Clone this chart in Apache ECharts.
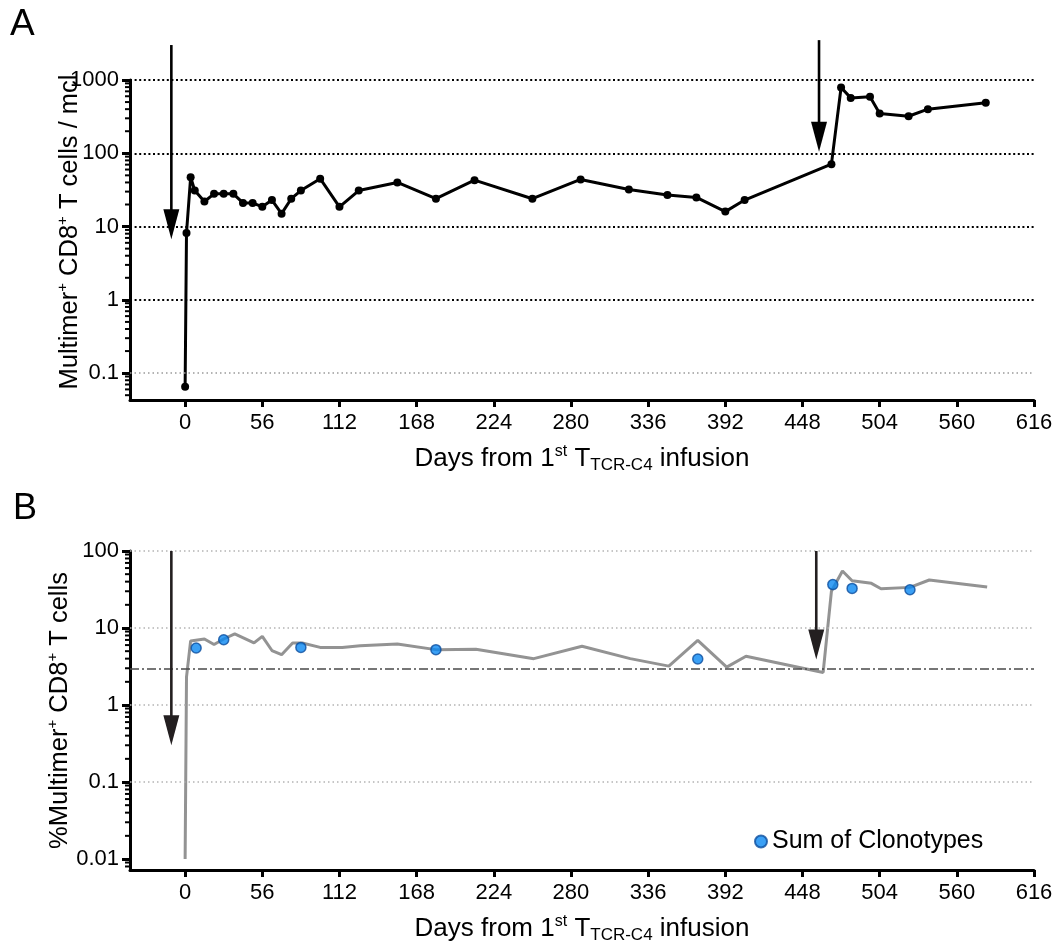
<!DOCTYPE html>
<html>
<head>
<meta charset="utf-8">
<script src="https://cdn.jsdelivr.net/npm/echarts@6/dist/echarts.min.js"></script>
<style>
  html, body { margin: 0; padding: 0; background: #fff; }
  #chart { width: 1059px; height: 949px; }
</style>
</head>
<body>
<div id="chart"></div>
<script>
// x axis: days from first infusion
const dayTicks = [0, 56, 112, 168, 224, 280, 336, 392, 448, 504, 560, 616];

// Panel A: multimer+ CD8+ T cells per microlitre
const countDays = [0, 1, 4, 7, 14, 21, 28, 35, 42, 49, 56, 63, 70, 77, 84, 98, 112, 126, 154, 182,
                   210, 252, 287, 322, 350, 371, 392, 406, 469, 476, 483, 497, 504, 525, 539, 581];
const countValues = [0.065, 8.2, 47, 31, 22, 28, 28, 28, 21, 21, 18.6, 23, 15, 24, 31, 45, 18.6, 31, 40, 24,
                     43, 24, 44, 32, 27, 25, 16, 23, 71, 790, 570, 590, 350, 320, 400, 490];
const countTicks = [0.1, 1, 10, 100, 1000];

// Panel B: % multimer+ of CD8+ T cells
const pctDays = [0, 1, 4, 14, 21, 28, 36, 50, 56, 63, 70, 78, 85, 98, 114, 127, 154, 183, 211, 253,
                 288, 323, 351, 372, 393, 407, 463, 469, 477, 484, 498, 505, 526, 540, 582];
const pctValues = [0.01, 2.3, 6.8, 7.2, 6.1, 7.2, 8.4, 6.4, 7.8, 5.1, 4.5, 6.4, 6.4, 5.6, 5.6, 5.9, 6.2, 5.2, 5.3, 4.0,
                   5.8, 4.0, 3.2, 6.9, 3.1, 4.3, 2.65, 30, 55, 41, 38, 32.4, 33.7, 42, 34];
const cloneDays = [8, 28, 84, 182, 372, 470, 484, 526];
const cloneValues = [5.5, 7.05, 5.6, 5.23, 3.96, 36.6, 32.7, 31.4];
const pctTicks = [0.01, 0.1, 1, 10, 100];
const pctThreshold = 3;

// infusion arrows: day, value at the tail, value at the tip
const arrowDaysA = [-10, 460];
const arrowTailA = [3000, 3500];
const arrowTipA = [6.7, 105];
const arrowDaysB = [-10, 458];
const arrowTailB = [100, 100];
const arrowTipB = [0.3, 3.9];

const FONT = "'Liberation Sans', Arial, Helvetica, sans-serif";
const X_MIN = -40, X_MAX = 616;
const A_MIN = 0.043, A_MAX = 1000;
const B_MIN = 0.0072, B_MAX = 100;

// 2..9 x 10^k minor tick values inside a log range
function minorTicks(lo, hi) {
  const out = [];
  for (let k = Math.floor(Math.log10(lo)); k <= Math.ceil(Math.log10(hi)); k++) {
    for (let m = 2; m <= 9; m++) {
      const v = m * Math.pow(10, k);
      if (v >= lo && v <= hi) out.push(v);
    }
  }
  return out;
}

function fmtLog(v) { return String(parseFloat(Number(v).toPrecision(6))); }

function nameRich(size) {
  return {
    n: { fontSize: size, lineHeight: 30, fontFamily: FONT, color: '#000' },
    sup: { fontSize: Math.round(size * 0.6), lineHeight: 15, verticalAlign: 'top', fontFamily: FONT, color: '#000' },
    sub: { fontSize: Math.round(size * 0.66), lineHeight: 16, verticalAlign: 'bottom', fontFamily: FONT, color: '#000' }
  };
}

function xAxisDef(gridIndex) {
  return {
    type: 'value', gridIndex, min: X_MIN, max: X_MAX,
    name: '{n|Days from 1}{sup|st}{n| T}{sub|TCR-C4}{n| infusion}',
    nameLocation: 'middle', nameGap: 44, nameMoveOverlap: false,
    nameTextStyle: { rich: nameRich(26) },
    axisLine: { show: true, onZero: false, lineStyle: { color: '#000', width: 3 } },
    axisTick: { show: true, customValues: dayTicks, length: 7, lineStyle: { color: '#000', width: 3 } },
    axisLabel: { customValues: dayTicks, fontSize: 22, color: '#000', fontFamily: FONT, margin: 12 },
    splitLine: { show: false }
  };
}

function yAxisDef(gridIndex, min, max, ticks, name, gap, pad) {
  return {
    type: 'log', logBase: 10, gridIndex, min, max,
    name, nameLocation: 'middle', nameGap: gap, nameMoveOverlap: false,
    nameTextStyle: { rich: nameRich(25.5), padding: pad },
    axisLine: { show: true, onZero: false, lineStyle: { color: '#000', width: 3 } },
    axisTick: { show: true, customValues: ticks, length: 8, lineStyle: { color: '#000', width: 3 } },
    axisLabel: { customValues: ticks, fontSize: 22, color: '#000', fontFamily: FONT, margin: 11, formatter: fmtLog },
    splitLine: { show: false },
    minorTick: { show: false }
  };
}

function minorTickSeries(xi, yi, lo, hi) {
  return {
    type: 'custom', xAxisIndex: xi, yAxisIndex: yi, silent: true, z: 5,
    data: minorTicks(lo, hi).map(v => [X_MIN, v]),
    renderItem(params, api) {
      const p = api.coord([api.value(0), api.value(1)]);
      return { type: 'line', shape: { x1: p[0] - 5, y1: p[1], x2: p[0], y2: p[1] },
               style: { stroke: '#000', lineWidth: 2 } };
    }
  };
}

function arrowSeries(xi, yi, days, tails, tips, color) {
  return {
    type: 'custom', xAxisIndex: xi, yAxisIndex: yi, silent: true, z: 10, clip: false,
    data: days.map((d, i) => [d, tails[i], tips[i]]),
    encode: { x: 0, y: [1, 2] },
    renderItem(params, api) {
      const tail = api.coord([api.value(0), api.value(1)]);
      const tip = api.coord([api.value(0), api.value(2)]);
      const headH = 30, headW = 8;
      return {
        type: 'group',
        children: [
          { type: 'line', shape: { x1: tail[0], y1: tail[1], x2: tip[0], y2: tip[1] - headH + 2 },
            style: { stroke: color, lineWidth: 2.6 } },
          { type: 'polygon',
            shape: { points: [[tip[0] - headW, tip[1] - headH], [tip[0] + headW, tip[1] - headH], [tip[0], tip[1]]] },
            style: { fill: color } }
        ]
      };
    }
  };
}

const chart = echarts.init(document.getElementById('chart'), null, { renderer: 'canvas' });

chart.setOption({
  animation: false,
  backgroundColor: '#fff',
  textStyle: { fontFamily: FONT },
  title: [
    { text: 'A', left: 10, top: 6, padding: 0, textStyle: { fontSize: 37, fontWeight: 'normal', color: '#000', fontFamily: FONT } },
    { text: 'B', left: 13, top: 491, padding: 0, textStyle: { fontSize: 36, fontWeight: 'normal', color: '#000', fontFamily: FONT } }
  ],
  legend: {
    data: ['Sum of Clonotypes'], left: 754, top: 829, padding: 0,
    itemWidth: 12, itemHeight: 12, itemGap: 5,
    textStyle: { fontSize: 25, color: '#000', fontFamily: FONT }
  },
  grid: [
    { left: 130, right: 25, top: 80, height: 320 },
    { left: 130, right: 25, top: 551, height: 319 }
  ],
  xAxis: [xAxisDef(0), xAxisDef(1)],
  yAxis: [
    yAxisDef(0, A_MIN, A_MAX, countTicks,
      '{n|Multimer}{sup|+}{n| CD8}{sup|+}{n| T cells / mcl}', 45, [0, 0, 0, 16]),
    yAxisDef(1, B_MIN, B_MAX, pctTicks,
      '{n|%Multimer}{sup|+}{n| CD8}{sup|+}{n| T cells}', 55, [0, 0, 0, 0])
  ],
  series: [
    {
      name: 'count', type: 'line', xAxisIndex: 0, yAxisIndex: 0, z: 3,
      data: countDays.map((d, i) => [d, countValues[i]]),
      symbol: 'circle', symbolSize: 8, showSymbol: true,
      lineStyle: { color: '#000', width: 3 },
      itemStyle: { color: '#000' },
      markLine: {
        silent: true, symbol: 'none', label: { show: false },
        data: countTicks.map((v, i) => ({
          yAxis: v,
          lineStyle: i === 0
            ? { color: '#9a9a9a', width: 1.5, type: [1.5, 3] }
            : { color: '#000', width: 2, type: [2, 2.6] }
        }))
      }
    },
    {
      name: 'percent', type: 'line', xAxisIndex: 1, yAxisIndex: 1, z: 3,
      data: pctDays.map((d, i) => [d, pctValues[i]]),
      showSymbol: false, symbol: 'none',
      lineStyle: { color: '#939393', width: 3 },
      itemStyle: { color: '#939393' },
      markLine: {
        silent: true, symbol: 'none', label: { show: false },
        data: pctTicks.slice(1).map(v => ({
          yAxis: v, lineStyle: { color: '#b4b4b4', width: 1.5, type: [1.5, 3] }
        })).concat([{
          yAxis: pctThreshold, lineStyle: { color: '#4a4a4a', width: 1.6, type: [9, 3, 2, 3] }
        }])
      }
    },
    {
      name: 'Sum of Clonotypes', type: 'scatter', xAxisIndex: 1, yAxisIndex: 1, z: 6,
      data: cloneDays.map((d, i) => [d, cloneValues[i]]),
      symbol: 'circle', symbolSize: 10,
      itemStyle: { color: '#0a88f2', borderColor: '#0c4e9e', borderWidth: 1.5 }
    },
    minorTickSeries(0, 0, A_MIN, A_MAX),
    minorTickSeries(1, 1, B_MIN, B_MAX),
    arrowSeries(0, 0, arrowDaysA, arrowTailA, arrowTipA, '#000'),
    arrowSeries(1, 1, arrowDaysB, arrowTailB, arrowTipB, '#231f20')
  ]
});
</script>
</body>
</html>
